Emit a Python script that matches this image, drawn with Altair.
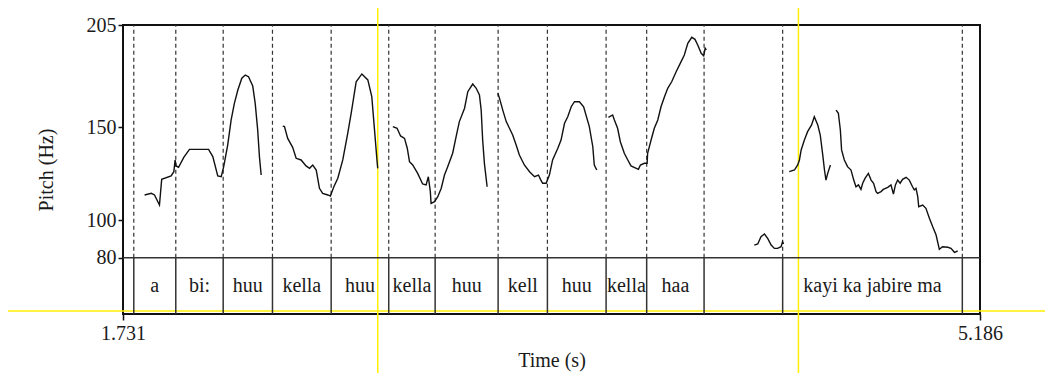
import altair as alt
import pandas as pd

# ---------------- data ----------------
T_START, T_END = 1.731, 5.186
HZ_BOTTOM, HZ_TIER, HZ_TOP = 49.76, 80, 205
y_ticks = [80, 100, 150, 205]
x_ticks = [1.731, 5.186]

seg1_t = [1.818, 1.845, 1.858, 1.878, 1.887, 1.925, 1.936, 1.941, 1.945, 1.955, 1.976, 1.999, 2.033, 2.076, 2.093,
          2.113, 2.127, 2.137, 2.153, 2.167, 2.180, 2.194, 2.210, 2.224, 2.237, 2.254, 2.264, 2.274, 2.281, 2.288]
seg1_hz = [113.7, 114.6, 113.7, 108.3, 122.1, 123.9, 126.2, 132.5, 129.3, 128.6, 133.9, 138.2, 138.2, 138.2, 134.3,
           123.9, 123.5, 128.9, 140.5, 154.0, 162.9, 170.1, 176.4, 178.1, 177.2, 172.2, 162.9, 148.6, 134.3, 124.4]

seg2_t = [2.375, 2.382, 2.395, 2.415, 2.429, 2.449, 2.469, 2.483, 2.496, 2.510, 2.523, 2.536, 2.557, 2.567, 2.581,
          2.597, 2.617, 2.637, 2.651, 2.671, 2.694, 2.718, 2.734, 2.745, 2.756, 2.758]
seg2_hz = [150.7, 150.4, 144.1, 139.3, 133.4, 132.5, 129.3, 128.0, 129.8, 127.1, 117.3, 114.6, 113.7, 113.1, 118.1,
           122.7, 132.5, 146.8, 157.6, 174.5, 178.7, 175.5, 166.5, 148.6, 130.7, 128.0]

seg3_t = [2.819, 2.836, 2.850, 2.866, 2.877, 2.886, 2.899, 2.919, 2.939, 2.953, 2.962, 2.970, 2.973, 2.987, 3.000,
          3.014, 3.027, 3.040, 3.060, 3.074, 3.087, 3.108, 3.121, 3.141, 3.155, 3.168, 3.175, 3.181, 3.188, 3.199]
seg3_hz = [150.4, 149.5, 145.4, 144.1, 138.8, 131.6, 129.8, 125.3, 119.6, 119.1, 123.5, 115.5, 109.2, 110.1, 112.8,
           117.3, 124.4, 128.9, 136.1, 145.0, 153.1, 160.3, 169.2, 173.3, 171.0, 167.4, 159.3, 143.2, 130.7, 118.1]

seg4_t = [3.242, 3.249, 3.262, 3.276, 3.289, 3.302, 3.316, 3.329, 3.349, 3.370, 3.390, 3.406, 3.414, 3.423, 3.437,
          3.450, 3.463, 3.484, 3.497, 3.511, 3.524, 3.538, 3.551, 3.571, 3.588, 3.611, 3.625, 3.631, 3.641]
seg4_hz = [168.3, 165.6, 159.3, 153.1, 149.5, 145.9, 140.5, 135.2, 129.8, 126.2, 123.5, 124.4, 122.1, 120.0, 120.0,
           124.4, 132.5, 138.8, 143.2, 152.2, 155.7, 161.1, 163.8, 163.8, 161.1, 150.4, 139.6, 129.8, 127.1]

seg5_t = [3.688, 3.705, 3.712, 3.725, 3.736, 3.752, 3.766, 3.779, 3.796, 3.809, 3.817, 3.833, 3.844, 3.846, 3.860,
          3.873, 3.887, 3.900, 3.914, 3.927, 3.943, 3.961, 3.981, 3.994, 4.008, 4.024, 4.037, 4.048, 4.062, 4.072,
          4.078, 4.083]
seg5_hz = [155.4, 156.7, 154.0, 149.5, 142.3, 136.1, 132.5, 129.3, 128.3, 127.5, 129.8, 130.7, 130.7, 136.1, 143.2,
           149.5, 154.0, 161.1, 166.5, 171.0, 174.5, 179.9, 185.3, 188.9, 195.2, 198.4, 197.3, 194.3, 189.8, 188.4,
           192.5, 191.6]

seg6_t = [4.276, 4.290, 4.303, 4.317, 4.330, 4.344, 4.357, 4.370, 4.384, 4.390, 4.394]
seg6_hz = [86.8, 87.4, 91.3, 92.7, 90.4, 86.8, 85.0, 85.0, 85.9, 88.6, 87.4]

seg7_t = [4.417, 4.438, 4.451, 4.458, 4.465, 4.478, 4.491, 4.507, 4.518, 4.532, 4.542, 4.552, 4.559, 4.565, 4.572,
          4.583]
seg7_hz = [126.2, 127.1, 129.8, 132.5, 137.9, 143.2, 147.7, 151.3, 155.7, 151.3, 145.9, 135.2, 127.1, 121.7, 125.3,
           129.8]

seg8_t = [4.606, 4.615, 4.623, 4.628, 4.639, 4.652, 4.666, 4.677, 4.686, 4.696, 4.706, 4.713, 4.723, 4.736, 4.747,
          4.757, 4.767, 4.773, 4.787, 4.796, 4.814, 4.827, 4.837, 4.845, 4.854, 4.864, 4.874, 4.888, 4.901, 4.914,
          4.921, 4.928, 4.935, 4.939, 4.955, 4.968, 4.982, 4.995, 5.009, 5.022, 5.035, 5.056, 5.069, 5.083, 5.096]
seg8_hz = [159.3, 157.6, 148.6, 137.9, 132.5, 128.9, 127.1, 121.7, 118.1, 119.1, 116.7, 120.0, 122.7, 125.3, 121.7,
           120.0, 115.5, 114.6, 115.5, 116.7, 117.8, 119.1, 114.2, 119.1, 121.7, 120.0, 122.1, 123.2, 121.7, 118.1,
           116.4, 117.3, 112.8, 107.4, 108.3, 106.5, 101.2, 96.7, 92.2, 84.5, 85.9, 85.6, 85.0, 82.9, 83.6]

# text-grid tier
boundaries = [1.7745, 1.9438, 2.1349, 2.3336, 2.5702, 2.8023, 2.9894, 3.2433, 3.442, 3.6786, 3.8422, 4.0736,
              4.3904, 5.1147]
tier_labels = ["", "a", "bi:", "huu", "kella", "huu", "kella", "huu", "kell", "huu", "kella", "haa", "",
               "kayi ka jabire ma", ""]
label_hz = 64.8

# yellow guide lines visible in the picture
guide_x = [2.758, 4.454]
guide_y = 51.4
guide_x_span = [1.257, 5.478]
guide_y_span = [13.8, 215.7]

# ---------------- tables ----------------
segs = [(seg1_t, seg1_hz), (seg2_t, seg2_hz), (seg3_t, seg3_hz), (seg4_t, seg4_hz),
        (seg5_t, seg5_hz), (seg6_t, seg6_hz), (seg7_t, seg7_hz), (seg8_t, seg8_hz)]
rows = []
for i, (ts, hs) in enumerate(segs):
    for t, h in zip(ts, hs):
        rows.append({"t": t, "f0": h, "seg": i})
pitch_df = pd.DataFrame(rows)

bounds_df = pd.DataFrame({"t": boundaries,
                          "lo": [HZ_BOTTOM] * len(boundaries),
                          "mid": [HZ_TIER] * len(boundaries),
                          "hi": [HZ_TOP] * len(boundaries)})
edges = [T_START] + boundaries + [T_END]
tier_df = pd.DataFrame({
    "mid": [(a + b) / 2 for a, b in zip(edges[:-1], edges[1:])],
    "label": tier_labels,
    "y": [label_hz] * len(tier_labels),
})
tier_line_df = pd.DataFrame({"t0": [T_START], "t1": [T_END], "y": [HZ_TIER]})
gv_df = pd.DataFrame({"t": guide_x, "y0": [guide_y_span[0]] * 2, "y1": [guide_y_span[1]] * 2})
gh_df = pd.DataFrame({"t0": [guide_x_span[0]], "t1": [guide_x_span[1]], "y": [guide_y]})

FONT = "Liberation Serif, Times New Roman, serif"
TXT = "#1a1a1a"

xs = alt.Scale(domain=[T_START, T_END], nice=False, zero=False)
ys = alt.Scale(domain=[HZ_BOTTOM, HZ_TOP], nice=False, zero=False)

x_axis = alt.Axis(values=x_ticks, format=".3f", title="Time (s)", labelFlush=False, tickSize=6,
                  labelPadding=3, titlePadding=7, tickWidth=1.5)
y_axis = alt.Axis(values=y_ticks, title="Pitch (Hz)", tickSize=5, labelPadding=2, tickWidth=1.5,
                  titlePadding=30)


def X(field):
    return alt.X(field, scale=xs, axis=x_axis)


def Y(field):
    return alt.Y(field, scale=ys, axis=y_axis)


yellow = "#ffee00"
guide_v = alt.Chart(gv_df).mark_rule(color=yellow, strokeWidth=1.5).encode(
    x=X("t:Q"), y=Y("y0:Q"), y2="y1:Q")
guide_h = alt.Chart(gh_df).mark_rule(color=yellow, strokeWidth=1.5).encode(
    x=X("t0:Q"), x2="t1:Q", y=Y("y:Q"))

dashed = alt.Chart(bounds_df).mark_rule(color="#333", strokeWidth=1.2, strokeDash=[4, 3]).encode(
    x=X("t:Q"), y=Y("mid:Q"), y2="hi:Q")

solid = alt.Chart(bounds_df).mark_rule(color="#333", strokeWidth=1.5).encode(
    x=X("t:Q"), y=Y("lo:Q"), y2="mid:Q")

tier_line = alt.Chart(tier_line_df).mark_rule(color="#333", strokeWidth=1.5).encode(
    x=X("t0:Q"), x2="t1:Q", y=Y("y:Q"))

labels = alt.Chart(tier_df).mark_text(font=FONT, fontSize=20, color=TXT, baseline="middle", align="center").encode(
    x=X("mid:Q"), y=Y("y:Q"), text="label:N")

pitch = alt.Chart(pitch_df).mark_line(color="#111", strokeWidth=1.4).encode(
    x=X("t:Q"), y=Y("f0:Q"), detail="seg:N")

chart = alt.layer(guide_v, guide_h, dashed, solid, tier_line, labels, pitch).properties(
    width=857, height=289,
    autosize=alt.AutoSizeParams(type="none"),
    padding={"left": 115, "top": 17, "right": 65, "bottom": 59},
    background="white",
).configure_view(stroke="#111", strokeWidth=2).configure_axis(
    labelFont=FONT, titleFont=FONT, labelFontSize=20, titleFontSize=20, titleFontWeight="normal",
    labelColor=TXT, titleColor=TXT, tickColor="#111", domain=False, grid=False,
)

chart.save("out.html", embed_options={"renderer": "svg", "actions": False})
